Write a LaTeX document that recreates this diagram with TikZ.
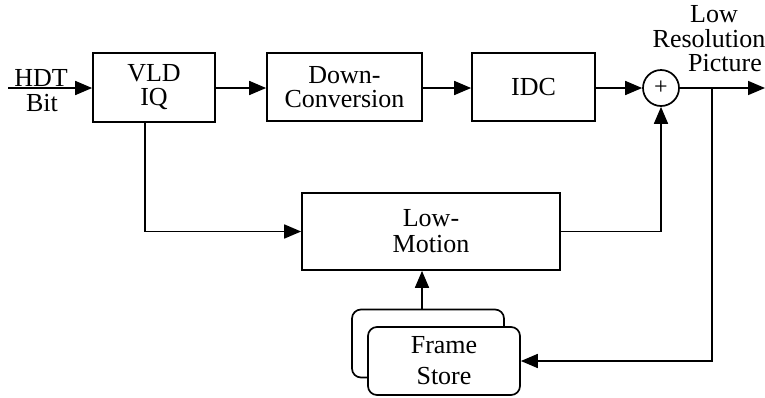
\documentclass[tikz,border=0pt]{standalone}
\usepackage{fontspec}
\setmainfont{Liberation Serif}
\newfontfamily\diagfont{Liberation Serif}
\usetikzlibrary{arrows.meta,calc}
\newcommand{\fsz}[1]{\diagfont\fontsize{26}{#1}\selectfont}
\begin{document}
\begin{tikzpicture}[x=1pt,y=-1pt,
  every node/.style={font=\fsz{24}},
  blk/.style={draw, line width=1.7pt, align=center, inner sep=0pt, fill=white},
  rblk/.style={blk, rounded corners=9pt},
  wire/.style={line width=1.7pt},
  arr/.style={wire, -{Triangle[length=17pt,width=14pt]}},
  sumnode/.style={draw, circle, line width=1.7pt, minimum size=36pt, inner sep=0pt}
]
\useasboundingbox (0,0) rectangle (765,397);

% processing chain
\node[blk, minimum width=122pt, minimum height=69pt] (vld) at (154,87.5) {VLD\\IQ};
\node[blk, minimum width=155pt, minimum height=68pt, font=\fsz{23.5}] (dc) at (344.5,87) {Down-\\Conversion};
\node[blk, minimum width=123pt, minimum height=68pt] (idc) at (533.5,87) {IDC};
\node[sumnode] (sum) at (661,88) {\diagfont\fontsize{24}{24}\selectfont +};
\node[blk, minimum width=258pt, minimum height=77pt, font=\fsz{26}] (lm) at (431,231.5) {Low-\\Motion};

% frame store (stacked)
\node[rblk, minimum width=152pt, minimum height=68pt] (fsb) at (428,343.5) {};
\node[rblk, minimum width=152pt, minimum height=68pt, font=\fsz{31}] (fs) at (444,361) {Frame\\Store};

% input / output labels
\coordinate (in) at (8,88);
\node[inner sep=0pt] (hdt) at (41,78.5) {HDT};
\node[inner sep=0pt] (bit) at (42,103) {Bit};
\coordinate (out) at (765,88);
\node[align=center, inner sep=0pt, font=\fsz{24.5}] (lrp) at (709,39)
  {\hspace*{10pt}Low\\Resolution\\\hspace*{32pt}Picture};

% connectors
\draw[arr] (in) -- (in -| vld.west);
\draw[arr] (vld.east |- in) -- (dc.west |- in);
\draw[arr] (dc.east |- in) -- (idc.west |- in);
\draw[arr] (idc.east |- sum) -- (sum.west);
\draw[arr] (sum.east) -- (out);
\draw[arr] ([xshift=-9pt]vld.south) |- (lm.west);
\draw[arr] (lm.east) -| (sum.south);
\coordinate (br) at (712,88);
\draw[arr] (br) |- (fs.east);
\coordinate (lmin) at ([xshift=-9pt]lm.south);
\draw[arr] (fsb.north -| lmin) -- (lmin);
\end{tikzpicture}
\end{document}
